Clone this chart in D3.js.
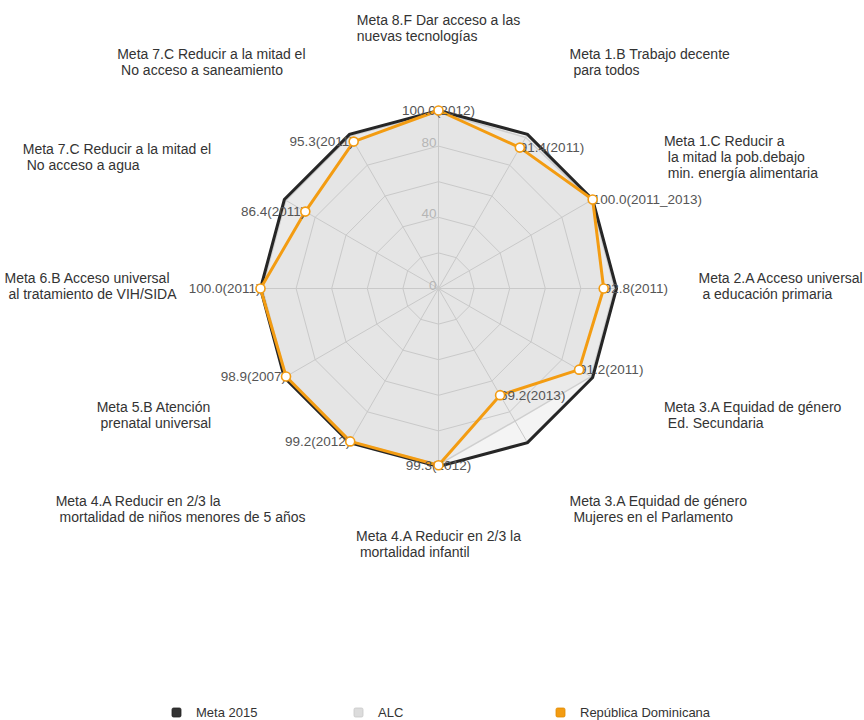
<!DOCTYPE html>
<html>
<head>
<meta charset="utf-8">
<script src="https://cdn.jsdelivr.net/npm/d3@7"></script>
<style>
  html, body { margin: 0; padding: 0; background: #fff; }
  svg text { font-family: "Liberation Sans", Arial, sans-serif; }
</style>
</head>
<body>
<svg id="chart" width="864" height="720"></svg>
<script>
// Axis titles (one entry per line; continuation lines keep their leading space)
const axisLabels = [
  ["Meta 8.F Dar acceso a las", "nuevas tecnologías"],
  ["Meta 1.B Trabajo decente", " para todos"],
  ["Meta 1.C Reducir a", " la mitad la pob.debajo", " min. energía alimentaria"],
  ["Meta 2.A Acceso universal", " a educación primaria"],
  ["Meta 3.A Equidad de género", " Ed. Secundaria"],
  ["Meta 3.A Equidad de género", " Mujeres en el Parlamento"],
  ["Meta 4.A Reducir en 2/3 la", " mortalidad infantil"],
  ["Meta 4.A Reducir en 2/3 la", " mortalidad de niños menores de 5 años"],
  ["Meta 5.B Atención", " prenatal universal"],
  ["Meta 6.B Acceso universal", " al tratamiento de VIH/SIDA"],
  ["Meta 7.C Reducir a la mitad el", " No acceso a agua"],
  ["Meta 7.C Reducir a la mitad el", " No acceso a saneamiento"]
];

// Series values (percent of goal)
const meta2015 = [100, 100, 100, 100, 100, 100, 100, 100, 100, 100, 100, 100];
const alc      = [99, 98, 99, 99, 99, 86, 99, 99, 99, 99, 99, 99];
const repDom   = [100.0, 91.4, 100.0, 92.8, 91.2, 69.2, 99.3, 99.2, 98.9, 100.0, 86.4, 95.3];
const repDomYears = ["2012", "2011", "2011_2013", "2011", "2011", "2013", "2012", "2012", "2007", "2011", "2011", "2011"];

// Radial grid
const gridLevels = [20, 40, 60, 80, 100];
const tickLabels = [0, 40, 80];

const legendNames = ["Meta 2015", "ALC", "República Dominicana"];

const svg = d3.select("#chart");
const cx = 438.5, cy = 288.5, R = 178;
const n = axisLabels.length;

const r = d3.scaleLinear().domain([0, 100]).range([0, R]);
const angle = d3.scaleLinear().domain([0, n]).range([0, 2 * Math.PI]);

const pt = (i, v) => {
  const a = angle(i);
  return [cx + r(v) * Math.sin(a), cy - r(v) * Math.cos(a)];
};

const radial = d3.lineRadial()
  .angle((d, i) => angle(i))
  .radius(d => r(d))
  .curve(d3.curveLinearClosed);

const g = svg.append("g").attr("transform", `translate(${cx},${cy})`);

// Series fills
g.append("path").datum(meta2015).attr("d", radial)
  .attr("fill", "#000").attr("fill-opacity", 0.045).attr("stroke", "none");
g.append("path").datum(alc).attr("d", radial)
  .attr("fill", "#000").attr("fill-opacity", 0.04)
  .attr("stroke", "#cfcfcf").attr("stroke-width", 1.5);
g.append("path").datum(repDom).attr("d", radial)
  .attr("fill", "#000").attr("fill-opacity", 0.02).attr("stroke", "none");

// Grid rings and spokes
gridLevels.forEach(lv => {
  g.append("path").datum(d3.range(n).map(() => lv)).attr("d", radial)
    .attr("fill", "none").attr("stroke", "#c9c9c9").attr("stroke-width", 1);
});
d3.range(n).forEach(i => {
  const a = angle(i);
  g.append("line")
    .attr("x1", 0).attr("y1", 0)
    .attr("x2", r(100) * Math.sin(a)).attr("y2", -r(100) * Math.cos(a))
    .attr("stroke", "#c9c9c9").attr("stroke-width", 1);
});

// Scale labels on the vertical axis
g.selectAll("text.tick").data(tickLabels).join("text")
  .attr("class", "tick")
  .attr("x", -2).attr("y", d => -r(d) + 1)
  .attr("text-anchor", "end")
  .attr("font-size", "13.5px").attr("fill", "#b5b5b5")
  .text(d => d);

// Series lines
g.append("path").datum(meta2015).attr("d", radial)
  .attr("fill", "none").attr("stroke", "#262626").attr("stroke-width", 3)
  .attr("stroke-linejoin", "miter");
g.append("path").datum(repDom).attr("d", radial)
  .attr("fill", "none").attr("stroke", "#f39c12").attr("stroke-width", 3)
  .attr("stroke-linejoin", "round");

// Value labels for República Dominicana
repDom.forEach((v, i) => {
  const [x, y] = pt(i, v);
  const s = Math.sin(angle(i));
  const anchor = Math.abs(s) < 0.01 ? "middle" : (s > 0 ? "start" : "end");
  svg.append("text")
    .attr("x", x).attr("y", y).attr("dy", "0.35em")
    .attr("text-anchor", anchor)
    .attr("font-size", "13.5px").attr("fill", "#555")
    .text(`${v.toFixed(1)}(${repDomYears[i]})`);
});

// Markers
repDom.forEach((v, i) => {
  const [x, y] = pt(i, v);
  svg.append("circle").attr("cx", x).attr("cy", y).attr("r", 4.5)
    .attr("fill", "#fff").attr("stroke", "#f39c12").attr("stroke-width", 1.6);
});

// Axis titles: blocks placed on an outer circle, vertically centred
const labelR = 258, labelCy = cy - 2.5, lineH = 16;
axisLabels.forEach((lines, i) => {
  const a = angle(i);
  const ax = cx + labelR * Math.sin(a);
  const ay = labelCy - labelR * Math.cos(a);
  const t = svg.append("text")
    .attr("font-size", "14px").attr("fill", "#333")
    .style("white-space", "pre");
  const spans = lines.map((ln, k) =>
    t.append("tspan").attr("x", 0)
      .attr("y", ay + (k - (lines.length - 1) / 2) * lineH)
      .attr("dy", "0.35em").text(ln));
  const w = d3.max(spans, s => s.node().getComputedTextLength());
  const s = Math.sin(a);
  const x0 = Math.abs(s) < 0.01 ? ax - w / 2 : (s > 0 ? ax + 2 : ax - w - 4);
  spans.forEach(sp => sp.attr("x", x0));
});

// Legend
const legendColors = ["#333", "#dcdcdc", "#f39c12"];
const legendStroke = ["#222", "#c8c8c8", "#e08a00"];
const legendX = [172, 354, 556];
const leg = svg.append("g");
legendNames.forEach((name, i) => {
  leg.append("rect").attr("x", legendX[i]).attr("y", 708)
    .attr("width", 9).attr("height", 9).attr("rx", 1.5)
    .attr("fill", legendColors[i]).attr("stroke", legendStroke[i]).attr("stroke-width", 0.8);
  leg.append("text").attr("x", legendX[i] + 24).attr("y", 717)
    .attr("font-size", "13px").attr("fill", "#333").text(name);
});
</script>
</body>
</html>
